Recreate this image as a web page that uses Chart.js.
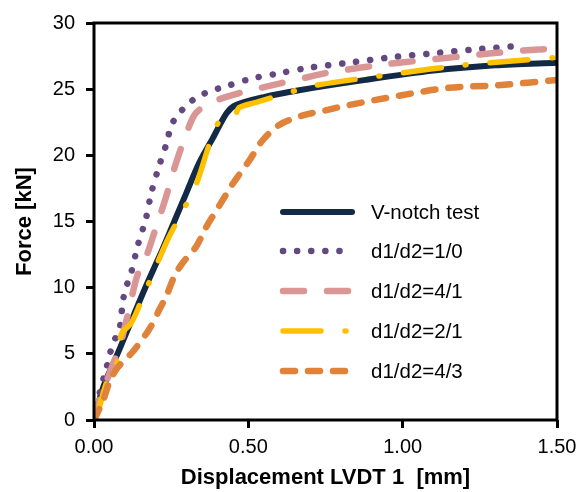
<!DOCTYPE html>
<html>
<head>
<meta charset="utf-8">
<script src="https://cdn.jsdelivr.net/npm/chart.js@4.4.0/dist/chart.umd.min.js"></script>
<style>
  html, body { margin: 0; padding: 0; background: #fff; }
  #wrap { width: 588px; height: 492px; }
</style>
</head>
<body>
<div id="wrap"><canvas id="chart"></canvas></div>
<script>
// ── data ──
const seriesNames = ['V-notch test', 'd1/d2=1/0', 'd1/d2=4/1', 'd1/d2=2/1', 'd1/d2=4/3'];

const vnotchX = [0, 0.03, 0.08, 0.13, 0.17, 0.22, 0.26, 0.30, 0.34, 0.385, 0.43, 0.46, 0.55, 0.66, 0.88, 1.10, 1.30, 1.50];
const vnotchY = [0, 2.5, 5.2, 8.0, 10.2, 12.8, 15.0, 17.2, 19.4, 21.3, 23.2, 23.8, 24.4, 24.9, 25.7, 26.4, 26.8, 27.0];

const d10X = [0, 0.019, 0.041, 0.052, 0.068, 0.084, 0.094, 0.105, 0.12, 0.142, 0.168, 0.186, 0.211, 0.239, 0.248, 0.274, 0.305, 0.342, 0.383, 0.426, 0.51, 0.60, 0.69, 0.826, 0.96, 1.094, 1.23, 1.367];
const d10Y = [0, 2.1, 4.0, 5.06, 6.1, 7.06, 9.05, 10.1, 11.1, 13.2, 15.2, 17.2, 19.2, 21.2, 22.2, 23.1, 23.9, 24.5, 24.9, 25.2, 25.8, 26.2, 26.6, 27.0, 27.4, 27.7, 28.0, 28.25];

const d41X = [0, 0.01, 0.05, 0.085, 0.11, 0.14, 0.17, 0.20, 0.23, 0.26, 0.30, 0.33, 0.38, 0.47, 0.54, 0.71, 0.77, 0.95, 1.03, 1.20, 1.28, 1.44, 1.50];
const d41Y = [0, 1.0, 3.5, 5.7, 8.0, 10.9, 12.4, 14.5, 16.6, 19.0, 21.7, 23.2, 24.0, 24.7, 25.1, 26.0, 26.3, 26.9, 27.1, 27.5, 27.7, 28.0, 28.05];

const d21X = [0, 0.015, 0.041, 0.073, 0.089, 0.12, 0.148, 0.197, 0.24, 0.283, 0.331, 0.385, 0.417, 0.455, 0.47, 0.525, 0.654, 0.72, 0.99, 1.19, 1.50];
const d21Y = [0, 0.8, 2.85, 4.2, 6.5, 7.3, 8.7, 11.4, 13.7, 15.6, 17.8, 21.6, 22.9, 23.0, 23.6, 24.0, 24.9, 25.3, 26.2, 26.8, 27.4];

const d43X = [0, 0.03, 0.052, 0.078, 0.127, 0.18, 0.213, 0.235, 0.261, 0.288, 0.331, 0.364, 0.406, 0.448, 0.503, 0.545, 0.60, 0.674, 0.75, 0.826, 0.987, 1.148, 1.31, 1.50];
const d43Y = [0, 1.5, 3.0, 4.0, 5.2, 6.9, 8.4, 9.4, 10.9, 11.9, 13.1, 14.6, 16.2, 17.8, 19.6, 21.1, 22.3, 23.0, 23.4, 23.8, 24.5, 25.1, 25.3, 25.7];

const xMin = 0, xMax = 1.5, xStep = 0.5;
const yMin = 0, yMax = 30, yStep = 5;

const pts = (xs, ys) => xs.map((x, i) => ({ x, y: ys[i] }));

// ── styles ──
const styles = [
  { color: '#132A46', width: 6, dash: [] },
  { color: '#634980', width: 6.5, dash: [0.1, 14] },
  { color: '#D99694', width: 6.5, dash: [21, 23] },
  { color: '#FFC000', width: 5.5, dash: [38, 24, 1, 24] },
  { color: '#E0823A', width: 6.5, dash: [12, 13] }
];
const drawOrder = [4, 3, 2, 1, 0]; // lower = on top

const allX = [vnotchX, d10X, d41X, d21X, d43X];
const allY = [vnotchY, d10Y, d41Y, d21Y, d43Y];

const datasets = seriesNames.map((name, i) => ({
  label: name,
  data: pts(allX[i], allY[i]),
  borderColor: styles[i].color,
  borderWidth: styles[i].width,
  borderDash: styles[i].dash,
  borderCapStyle: 'round',
  borderJoinStyle: 'round',
  pointRadius: 0,
  tension: 0.3,
  fill: false,
  order: drawOrder[i]
}));

// legend drawn inside the plot, right-middle
const legendRows = [212, 251, 291, 331, 371];
const insideLegend = {
  id: 'insideLegend',
  afterDraw(chart) {
    const ctx = chart.ctx;
    ctx.save();
    ctx.font = '20.5px "Liberation Sans", Arial, sans-serif';
    ctx.textBaseline = 'middle';
    ctx.fillStyle = '#000';
    chart.data.datasets.forEach((ds, i) => {
      const y = legendRows[i];
      ctx.beginPath();
      ctx.strokeStyle = ds.borderColor;
      ctx.lineWidth = ds.borderWidth;
      ctx.lineCap = 'round';
      ctx.setLineDash(ds.borderDash);
      ctx.moveTo(283, y);
      ctx.lineTo(352, y);
      ctx.stroke();
      ctx.setLineDash([]);
      ctx.fillText(ds.label, 371, y + 1);
    });
    ctx.restore();
  }
};

// black box round the plot
const frame = {
  id: 'frame',
  afterDatasetsDraw(chart) {
    const { ctx, chartArea: a } = chart;
    ctx.save();
    ctx.strokeStyle = '#000';
    ctx.lineWidth = 3;
    ctx.strokeRect(a.left, a.top, a.right - a.left, a.bottom - a.top);
    ctx.restore();
  }
};

new Chart(document.getElementById('chart'), {
  type: 'line',
  data: { datasets },
  options: {
    responsive: true,
    maintainAspectRatio: false,
    animation: false,
    layout: { padding: { left: 0, right: 31, top: 17, bottom: 0 } },
    plugins: { legend: { display: false }, tooltip: { enabled: false } },
    scales: {
      x: {
        type: 'linear',
        min: xMin, max: xMax,
        afterFit: s => { s.height = 72; },
        border: { display: false },
        grid: { drawOnChartArea: false, drawTicks: true, tickLength: 8, tickWidth: 3, tickColor: '#000' },
        ticks: {
          stepSize: xStep, padding: 7, color: '#000',
          font: { family: '"Liberation Sans", Arial, sans-serif', size: 20 },
          callback: v => Number(v).toFixed(2)
        },
        title: {
          display: true, text: 'Displacement LVDT 1  [mm]', color: '#000',
          font: { family: '"Liberation Sans", Arial, sans-serif', size: 22, weight: 'bold' },
          padding: { top: 0, bottom: 1 }
        }
      },
      y: {
        min: yMin, max: yMax,
        afterFit: s => { s.width = 94; },
        border: { display: false },
        grid: { drawOnChartArea: false, drawTicks: true, tickLength: 8, tickWidth: 3, tickColor: '#000' },
        ticks: {
          stepSize: yStep, padding: 11, color: '#000',
          font: { family: '"Liberation Sans", Arial, sans-serif', size: 20 }
        },
        title: {
          display: true, text: 'Force [kN]', color: '#000',
          font: { family: '"Liberation Sans", Arial, sans-serif', size: 22, weight: 'bold' },
          padding: { top: 12, bottom: 0 }
        }
      }
    }
  },
  plugins: [frame, insideLegend]
});
</script>
</body>
</html>
